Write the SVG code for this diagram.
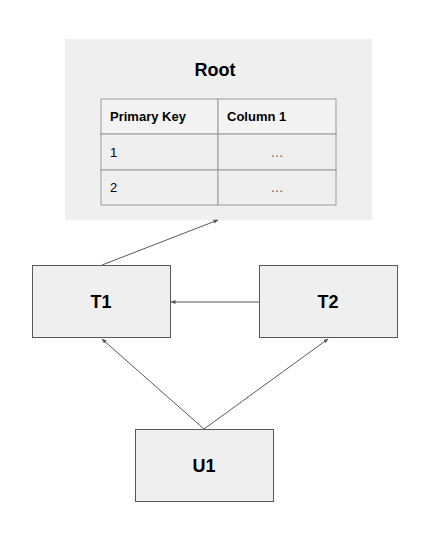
<svg xmlns="http://www.w3.org/2000/svg" width="431" height="540" viewBox="0 0 431 540">
<style>
.box{fill:#efefef;stroke:#595959;stroke-width:1}
.cell{fill:#efefef;stroke:#999999;stroke-width:1}
.head{fill:#f3f3f3;stroke:#999999;stroke-width:1}
.lbl{font-family:"Liberation Sans",Arial,sans-serif;font-weight:bold;font-size:18px;fill:#000;text-anchor:middle}
.th{font-family:"Liberation Sans",Arial,sans-serif;font-weight:bold;font-size:13px;fill:#000}
.td{font-family:"Liberation Sans",Arial,sans-serif;font-size:13px;fill:#000}
.el{font-family:"Liberation Sans",Arial,sans-serif;font-size:13px;fill:#555555;text-anchor:middle}
.conn{stroke:#595959;stroke-width:1;fill:none;marker-end:url(#ah)}
</style>
<defs>
<marker id="ah" viewBox="0 0 10 10" refX="9" refY="5" markerWidth="5" markerHeight="5" orient="auto" markerUnits="userSpaceOnUse">
<path d="M0,1 L10,5 L0,9 z" fill="#595959"/>
</marker>
</defs>
<rect width="431" height="540" fill="#ffffff"/>
<g id="root">
<rect x="65" y="39" width="307" height="181" fill="#efefef"/>
<text class="lbl" x="215" y="76">Root</text>
<rect class="head" x="101" y="99" width="117" height="35"/>
<rect class="head" x="218" y="99" width="118" height="35"/>
<rect class="cell" x="101" y="134" width="117" height="36"/>
<rect class="cell" x="218" y="134" width="118" height="36"/>
<rect class="cell" x="101" y="170" width="117" height="35"/>
<rect class="cell" x="218" y="170" width="118" height="35"/>
<text class="th" x="110" y="121">Primary Key</text>
<text class="th" x="227" y="121">Column 1</text>
<text class="td" x="110" y="157">1</text>
<text class="el" x="277" y="157">…</text>
<text class="td" x="110" y="192">2</text>
<text class="el" x="277" y="192">…</text>
</g>
<g id="t1">
<rect class="box" x="32.5" y="265.5" width="138" height="72"/>
<text class="lbl" x="101" y="308">T1</text>
</g>
<g id="t2">
<rect class="box" x="259.5" y="265.5" width="138" height="72"/>
<text class="lbl" x="328" y="308">T2</text>
</g>
<g id="u1">
<rect class="box" x="135.5" y="429.5" width="138" height="72"/>
<text class="lbl" x="204" y="472">U1</text>
</g>
<g id="connectors">
<line class="conn" x1="102" y1="265" x2="218" y2="220"/>
<line class="conn" x1="259" y1="302" x2="171" y2="302"/>
<line class="conn" x1="204" y1="429" x2="102" y2="339"/>
<line class="conn" x1="204" y1="429" x2="328" y2="339"/>
</g>
</svg>
